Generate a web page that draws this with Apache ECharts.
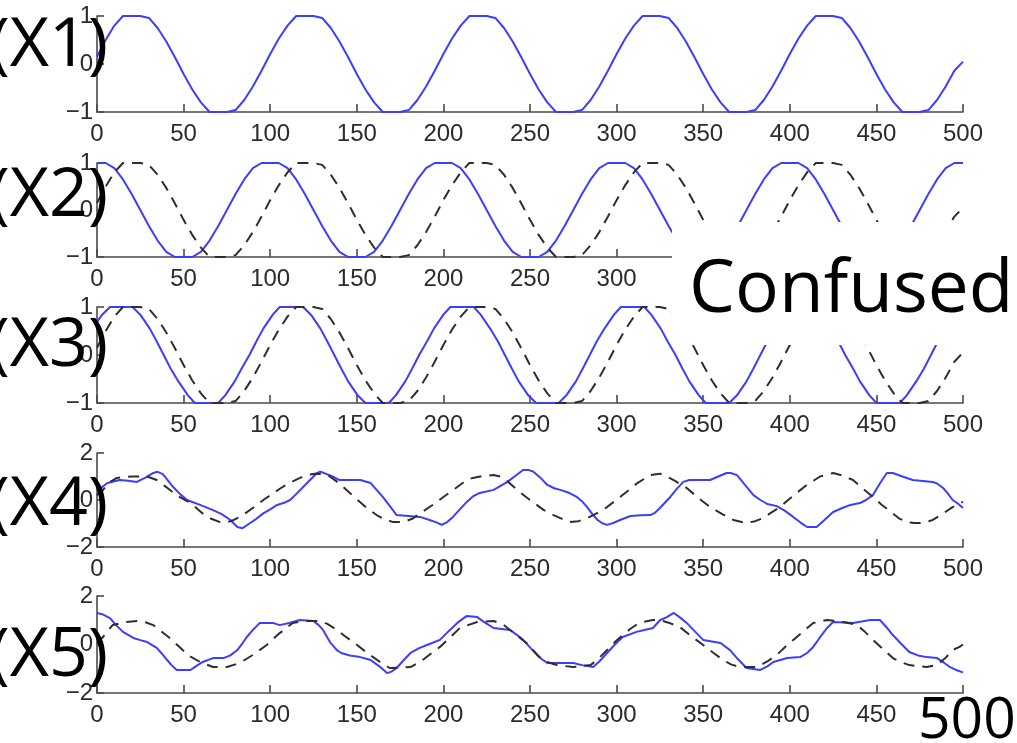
<!DOCTYPE html>
<html>
<head>
<meta charset="utf-8">
<script src="https://cdn.jsdelivr.net/npm/echarts@6/dist/echarts.min.js"></script>
<style>
html,body{margin:0;padding:0;background:#fff;}
#chart{width:1017px;height:743px;}
</style>
</head>
<body>
<div id="chart"></div>
<script>
// ---------- data ----------
const xTicks = [0, 50, 100, 150, 200, 250, 300, 350, 400, 450, 500];
const panelLabels = ['(X1)', '(X2)', '(X3)', '(X4)', '(X5)'];
const overlayWord = 'Confused';
const overlayNumber = '500';

// source signal sampled every 5 samples (x = 0,5,...,500)
const sourceS1 = [
  0.15,0.50,0.80,1,1,1,0.96,0.75,0.47,0.14,-0.21,-0.53,-0.80,-1,-1,-1,-0.96,-0.75,-0.47,-0.14,
  0.21,0.53,0.80,1,1,1,0.96,0.75,0.47,0.14,-0.21,-0.53,-0.80,-1,-1,-1,-0.96,-0.75,-0.47,-0.14,
  0.21,0.53,0.80,1,1,1,0.96,0.75,0.47,0.14,-0.21,-0.53,-0.80,-1,-1,-1,-0.96,-0.75,-0.47,-0.14,
  0.21,0.53,0.80,1,1,1,0.96,0.75,0.47,0.14,-0.21,-0.53,-0.80,-1,-1,-1,-0.96,-0.75,-0.47,-0.14,
  0.21,0.53,0.80,1,1,1,0.96,0.75,0.47,0.14,-0.21,-0.53,-0.80,-1,-1,-1,-0.96,-0.75,-0.47,-0.14,
  0.05
];
// X2 estimate, sampled every 5
const estX2 = [
  1,1,0.89,0.65,0.34,0,-0.34,-0.65,-0.89,-1,-1,-1,-0.89,-0.65,-0.34,0,0.34,0.65,0.89,1,
  1,1,0.89,0.65,0.34,0,-0.34,-0.65,-0.89,-1,-1,-1,-0.89,-0.65,-0.34,0,0.34,0.65,0.89,1,
  1,1,0.89,0.65,0.34,0,-0.34,-0.65,-0.89,-1,-1,-1,-0.89,-0.65,-0.34,0,0.34,0.65,0.89,1,
  1,1,0.89,0.65,0.34,0,-0.34,-0.65,-0.89,-1,-1,-1,-0.89,-0.65,-0.34,0,0.34,0.65,0.89,1,
  1,1,0.89,0.65,0.34,0,-0.34,-0.65,-0.89,-1,-1,-1,-0.89,-0.65,-0.34,0,0.34,0.65,0.89,1,
  1
];
// X3 estimate, [sample, value]
const estX3 = [
  [0,0.69],[3,0.84],[7.5,1],[20.5,1],[25,0.84],[30.5,0.55],[34.5,0.28],[38.5,0],[42.5,-0.28],[47,-0.55],[52.5,-0.84],[56.5,-1],
  [70,-1],[74,-0.84],[79.5,-0.55],[83.5,-0.28],[88,0],[92,0.28],[96,0.55],[101.5,0.84],[105.5,1],
  [119,1],[123.5,0.84],[129,0.55],[133,0.28],[137,0],[141,-0.28],[145,-0.55],[150.5,-0.84],[155,-1],
  [168.5,-1],[172.5,-0.84],[178,-0.55],[182,-0.28],[186,0],[190.5,0.28],[194.5,0.55],[200,0.84],[204,1],
  [217.5,1],[221.5,0.84],[227,0.55],[231.5,0.28],[235.5,0],[239.5,-0.28],[243.5,-0.55],[249,-0.84],[253.5,-1],
  [266.5,-1],[271,-0.84],[276.5,-0.55],[280.5,-0.28],[284.5,0],[288.5,0.28],[293,0.55],[298.5,0.84],[302.5,1],
  [316,1],[320,0.84],[325.5,0.55],[329.5,0.28],[334,0],[338,-0.28],[342,-0.55],[347.5,-0.84],[351.5,-1],
  [365,-1],[369.5,-0.84],[375,-0.55],[379,-0.28],[383,0],[387,0.28],[391,0.55],[396.5,0.84],[401,1],
  [414.5,1],[418.5,0.84],[424,0.55],[428,0.28],[432,0],[436.5,-0.28],[440.5,-0.55],[446,-0.84],[450,-1],
  [463.5,-1],[467.5,-0.84],[473,-0.55],[477.5,-0.28],[481.5,0],[485.5,0.28],[489.5,0.55],[495,0.84],[499.5,1],[500,1]
];
// X4 estimate and reference
const estX4 = [
  [0,0.2],[3,0.55],[6,0.72],[13,0.85],[18,0.82],[23,0.77],[28,0.95],[32.5,1.15],[35,1.2],[38,1.1],[44,0.55],[48,0.25],[52,0],
  [59.5,-0.21],[67,-0.43],[72,-0.6],[77,-0.85],[81,-1.15],[84,-1.2],[88,-1.0],[92,-0.8],[96,-0.57],[100,-0.4],[104,-0.21],
  [108,-0.12],[111.5,0],[115,0.25],[119,0.55],[123,0.85],[127,1.15],[129,1.2],[132,1.12],[136,1.0],[140,0.85],[146,0.85],
  [152,0.85],[158,0.72],[165,0.13],[169,-0.25],[173,-0.64],[180,-0.68],[186.5,-0.72],[192,-0.85],[196,-0.95],[199,-1.06],
  [202,-0.95],[205.5,-0.72],[209.5,-0.4],[213.5,-0.08],[217,0.15],[221,0.3],[229,0.43],[233,0.6],[237,0.77],[242,1.05],
  [246,1.28],[249,1.28],[252,1.2],[256,0.95],[260,0.64],[264,0.5],[267.5,0.43],[272,0.32],[277,0.13],[280,-0.05],[283,-0.3],
  [286,-0.6],[289,-0.85],[292,-1.0],[294.5,-1.06],[298,-0.98],[302,-0.85],[308,-0.68],[314,-0.65],[319.5,-0.64],[322,-0.55],
  [325,-0.34],[331,0.13],[334.5,0.45],[338.5,0.77],[342,0.85],[354,0.85],[358,0.98],[363.5,1.15],[366,1.15],[369.5,1.06],
  [374,0.65],[379,0.21],[383,0],[387,-0.17],[392.5,-0.26],[397,-0.45],[402,-0.72],[406,-0.95],[410,-1.15],[415.5,-1.15],
  [420,-0.85],[425,-0.51],[430,-0.35],[435,-0.21],[440.5,-0.13],[444,0],[448,0.21],[452,0.7],[456,1.15],[459.5,1.15],
  [465,1.0],[471,0.85],[482.5,0.77],[485,0.7],[488.5,0.51],[491,0.3],[494,0],[497,-0.15],[500,-0.34]
];
const refX4 = [
  [0,0.2],[3.5,0.43],[7,0.75],[11.5,0.94],[20,1.0],[29,1.0],[34.5,0.85],[40,0.55],[46,0.2],[54,-0.13],[61,-0.57],[66,-0.8],
  [71,-0.94],[75,-0.95],[79,-0.85],[84,-0.65],[90,-0.34],[96,0],[102,0.3],[106,0.5],[111,0.72],[116,0.9],[121,1.06],
  [126,1.12],[131,1.1],[134.5,1.0],[140,0.7],[146,0.3],[152,-0.1],[156,-0.35],[161.5,-0.64],[166,-0.82],[171,-0.94],
  [177,-0.94],[182,-0.8],[188,-0.5],[194,-0.2],[200,0.13],[207,0.5],[213.5,0.85],[217,0.94],[223,1.03],[229,1.06],[233,1.0],
  [237,0.8],[242.5,0.43],[250,0],[258,-0.43],[263,-0.62],[267.5,-0.77],[273,-0.94],[278,-0.9],[283,-0.77],[289,-0.55],
  [294.5,-0.3],[302,0.13],[307,0.42],[312,0.72],[319.5,1.06],[325,1.12],[329,1.0],[334,0.8],[340.5,0.51],[347,0.1],
  [354,-0.3],[361,-0.6],[367.5,-0.85],[375,-0.98],[380,-0.9],[384.5,-0.77],[389,-0.55],[394.5,-0.3],[399,0],[404,0.3],
  [410,0.65],[417.5,1.0],[425,1.15],[430,1.05],[436.5,0.85],[442,0.5],[448,0.13],[453,-0.2],[459.5,-0.57],[463,-0.78],
  [467.5,-0.94],[472,-0.98],[477,-0.98],[482.5,-0.85],[488,-0.6],[494,-0.3],[500,-0.08]
];
// X5 estimate and reference
const estX5 = [
  [0,1.3],[3,1.25],[7.5,1.09],[11,0.8],[15,0.52],[21,0.27],[25,0.18],[29,0.1],[34.5,-0.14],[37.5,-0.38],[40.5,-0.64],
  [43,-0.85],[46,-1.05],[54,-1.05],[57,-0.9],[61,-0.72],[67,-0.56],[73,-0.56],[77,-0.45],[81,-0.23],[84,0.05],[86.5,0.31],
  [90,0.6],[94,0.89],[101.5,0.89],[105.5,0.8],[111,0.89],[117,1.01],[125,0.97],[128,0.8],[130.5,0.6],[134.5,0.1],
  [138.5,-0.23],[141,-0.35],[146,-0.45],[152,-0.52],[158,-0.64],[163,-0.9],[167.5,-1.18],[170,-1.12],[173,-0.97],
  [177,-0.65],[181,-0.35],[186,-0.15],[190.5,-0.02],[198,0.19],[203,0.55],[208,0.89],[213.5,1.18],[219.5,1.13],[224,0.9],
  [229,0.68],[238.5,0.6],[242,0.42],[246,0.19],[250,-0.12],[254,-0.43],[257,-0.62],[260,-0.76],[269,-0.76],[275,-0.76],
  [280,-0.85],[286.5,-0.93],[290,-0.7],[294.5,-0.35],[299,0],[303.5,0.31],[311.5,0.52],[316,0.6],[321,0.68],[325,1.0],
  [329,1.13],[333,1.3],[336,1.15],[340.5,0.89],[345,0.55],[350,0.19],[360,0.06],[365.5,-0.23],[370,-0.6],[375,-0.97],
  [383,-1.05],[387,-0.9],[390.5,-0.72],[398.5,-0.56],[406,-0.52],[410,-0.35],[413.5,-0.1],[417.5,0.3],[421.5,0.68],
  [425,0.93],[436.5,0.89],[446.5,1.01],[452,1.01],[456,0.7],[459.5,0.39],[464,0.05],[469,-0.31],[474,-0.45],[479,-0.52],
  [485,-0.56],[489,-0.75],[492.5,-0.93],[496,-1.05],[500,-1.15]
];
const refX5 = [
  [0,0.05],[3.5,0.31],[9,0.8],[17,0.93],[23,0.97],[28,0.92],[32.5,0.8],[37,0.55],[42,0.27],[49.5,-0.23],[54,-0.5],
  [59.5,-0.72],[67,-0.93],[75,-0.93],[82.5,-0.76],[90,-0.43],[98,-0.02],[105.5,0.47],[113,0.89],[121,0.97],[129,0.97],
  [133,0.85],[138.5,0.6],[143,0.35],[148,0.1],[156,-0.35],[163.5,-0.72],[169,-0.97],[181,-0.93],[186.5,-0.72],[192,-0.42],
  [198,-0.1],[204,0.3],[209.5,0.68],[219.5,0.93],[229,0.97],[234,0.85],[238.5,0.6],[248,0.06],[255.5,-0.52],[260,-0.72],
  [265.5,-0.85],[275,-0.93],[285,-0.85],[290,-0.55],[294.5,-0.23],[299,0.1],[303.5,0.39],[308,0.65],[313,0.89],[321,1.01],
  [325,1.01],[330,0.9],[336.5,0.72],[343,0.35],[350,-0.02],[356,-0.35],[361.5,-0.64],[366,-0.82],[371,-0.93],[381,-0.93],
  [387,-0.7],[392.5,-0.43],[397,-0.12],[402,0.19],[408,0.55],[413.5,0.89],[421.5,1.01],[431,0.93],[439,0.8],[443,0.55],
  [448,0.19],[454,-0.2],[459.5,-0.56],[464,-0.72],[469,-0.85],[479,-0.93],[485,-0.85],[490,-0.55],[494,-0.23],[498,-0.1],[500,0.0]
];
const yRanges = [[-1,1,1],[-1,1,1],[-1,1,1],[-2,2,2],[-2,2,2]];

// ---------- layout / styles ----------
const SAMPLE_STEP = 5;
const toPairs = arr => arr.map((v, i) => [i * SAMPLE_STEP, v]);
const gridTops = [16, 163, 307, 453, 596];
const gridHeights = [96, 94, 96, 94, 97];
const BLUE = '#3d3dff';
const DASH = '#2e2e2e';
const AX = '#4a4a4a';
const labelFont = { fontFamily: '"Liberation Sans", Arial, sans-serif', fontSize: 24, color: '#2b2b2b' };

const grids = [], xAxes = [], yAxes = [];
for (let i = 0; i < 5; i++) {
  grids.push({ left: 97, width: 866, top: gridTops[i], height: gridHeights[i] });
  xAxes.push({
    gridIndex: i, type: 'value', min: xTicks[0], max: xTicks[xTicks.length - 1], interval: xTicks[1] - xTicks[0],
    axisLine: { show: true, onZero: false, lineStyle: { color: AX, width: 1.6 } },
    axisTick: { show: true, inside: true, length: 8, lineStyle: { color: AX, width: 1.6 } },
    axisLabel: Object.assign({ margin: 10 }, labelFont),
    splitLine: { show: false }
  });
  yAxes.push({
    gridIndex: i, type: 'value', min: yRanges[i][0], max: yRanges[i][1], interval: yRanges[i][2],
    axisLine: { show: true, onZero: false, lineStyle: { color: AX, width: 1.6 } },
    axisTick: { show: true, inside: true, length: 7, lineStyle: { color: AX, width: 1.6 } },
    axisLabel: Object.assign({ margin: 4, formatter: v => String(v).replace('-', '\u2212') }, labelFont),
    splitLine: { show: false }
  });
}

function line(idx, data, dashed) {
  return {
    type: 'line', xAxisIndex: idx, yAxisIndex: idx, data: data,
    showSymbol: false, symbol: 'none', silent: true, animation: false,
    lineStyle: dashed ? { color: DASH, width: 2, type: [11, 8] } : { color: BLUE, width: 2 },
    z: dashed ? 3 : 2
  };
}

const series = [
  line(0, toPairs(sourceS1), false),
  line(1, toPairs(estX2), false),
  line(1, toPairs(sourceS1), true),
  line(2, estX3, false),
  line(2, toPairs(sourceS1), true),
  line(3, estX4, false),
  line(3, refX4, true),
  line(4, estX5, false),
  line(4, refX5, true)
];

const bigFont = '"Open Sans", "Noto Sans", sans-serif';
const labelYs = [47, 197, 347, 506, 657];
const graphics = panelLabels.map((t, i) => ({
  type: 'text', z: 100, x: 108, y: labelYs[i],
  style: { text: t, font: '68px ' + bigFont, fill: '#000', textAlign: 'right', textVerticalAlign: 'middle', verticalAlign: 'middle' }
}));
graphics.push({ type: 'rect', z: 99, shape: { x: 672, y: 222, width: 345, height: 123 }, style: { fill: '#fff' } });
graphics.push({
  type: 'text', z: 100, x: 689, y: 291,
  style: { text: overlayWord, font: '73px ' + bigFont, fill: '#000', textAlign: 'left', textVerticalAlign: 'middle', verticalAlign: 'middle' }
});
graphics.push({ type: 'rect', z: 99, shape: { x: 915, y: 697, width: 102, height: 46 }, style: { fill: '#fff' } });
graphics.push({
  type: 'text', z: 100, x: 918, y: 722,
  style: { text: overlayNumber, font: '57px ' + bigFont, fill: '#000', textAlign: 'left', textVerticalAlign: 'middle', verticalAlign: 'middle' }
});

const chart = echarts.init(document.getElementById('chart'), null, { renderer: 'canvas' });
chart.setOption({
  animation: false,
  backgroundColor: '#fff',
  grid: grids, xAxis: xAxes, yAxis: yAxes, series: series,
  graphic: { elements: graphics }
});
</script>
</body>
</html>
